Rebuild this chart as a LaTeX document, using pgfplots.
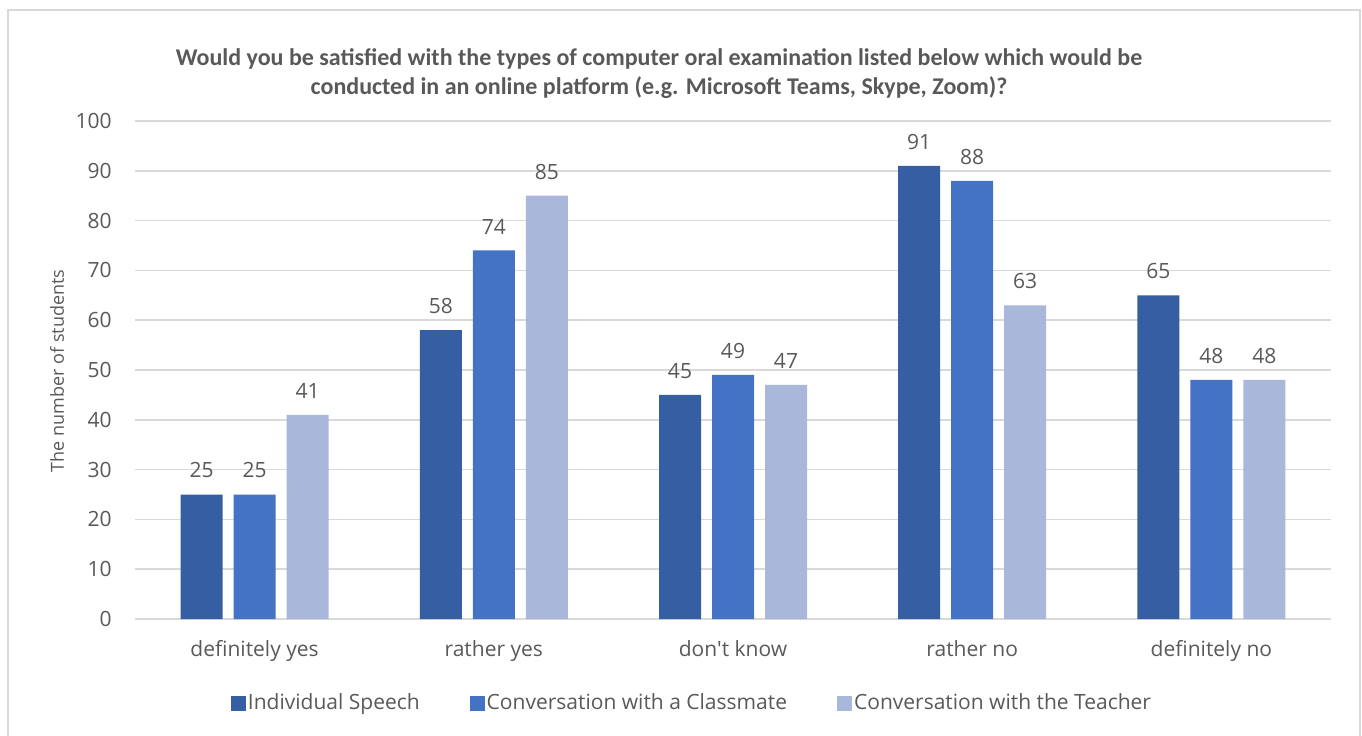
\documentclass[border=0pt]{standalone}
\usepackage{pgfplots}
\pgfplotsset{compat=1.18}
\usepackage{fontspec}
\setmainfont{Open Sans}
\newfontfamily\titlefont{Carlito}
\newfontfamily\osans{Open Sans}
\definecolor{c1}{HTML}{355EA3}
\definecolor{c2}{HTML}{4472C4}
\definecolor{c3}{HTML}{A9B7DB}
\definecolor{gridc}{HTML}{D9D9D9}
\definecolor{txt}{HTML}{595959}
\begin{document}
\begin{tikzpicture}
\useasboundingbox (0,0) rectangle (681pt,367.5pt);
\draw[gridc, line width=1pt] (4pt,-5pt) -- (4pt,362.5pt) -- (680pt,362.5pt) -- (680pt,-5pt);
\node[align=center, text=txt, font=\titlefont\bfseries\fontsize{12}{14.5}\selectfont] at (329.5pt,330.75pt)
  {Would you be satisfied with the types of computer oral examination listed below which would be\\conducted in an online platform (e.g. Microsoft Teams, Skype, Zoom)?};
\node[rotate=90, text=txt, font=\fontsize{9}{11}\selectfont] at (28.5pt,182pt) {The number of students};
\begin{axis}[
  at={(67.5pt,58pt)}, anchor=south west,
  width=598pt, height=249pt, scale only axis,
  xmin=-0.5, xmax=4.5, ymin=0, ymax=100,
  ytick={0,10,...,100},
  xtick={0,1,2,3,4},
  xticklabels={definitely yes, rather yes, {\osans don't know}, rather no, definitely no},
  ymajorgrids, grid style={gridc, line width=0.75pt},
  axis line style={draw=none},
  major tick length=0pt,
  tick label style={text=txt, font=\fontsize{10.5}{12}\selectfont},
  yticklabel style={anchor=east, inner sep=0pt, xshift=-11.5pt},
  xticklabel style={anchor=north, inner sep=0pt, yshift=-10.5pt},
  /pgf/number format/assume math mode=true,
  ybar=5.5pt, bar width=21pt,
  nodes near coords,
  every node near coord/.append style={text=txt, font=\fontsize{10.5}{12}\selectfont, anchor=south, inner sep=0pt, yshift=8pt},
  legend style={at={(0.4657,-0.1687)}, anchor=center, draw=none, fill=none,
    legend columns=3, text=txt, font=\fontsize{10.5}{12}\selectfont,
    nodes={inner sep=1pt},
    /tikz/every even column/.append style={column sep=24pt},
    inner sep=0pt},
  legend image code/.code={\fill[#1] (0pt,-3.75pt) rectangle (7.5pt,3.75pt);},
  legend cell align=left,
]
\addplot[fill=c1, draw=none] coordinates {(0,25) (1,58) (2,45) (3,91) (4,65)};
\addplot[fill=c2, draw=none] coordinates {(0,25) (1,74) (2,49) (3,88) (4,48)};
\addplot[fill=c3, draw=none] coordinates {(0,41) (1,85) (2,47) (3,63) (4,48)};
\legend{Individual Speech, Conversation with a Classmate, Conversation with the Teacher}
\end{axis}
\end{tikzpicture}
\end{document}
